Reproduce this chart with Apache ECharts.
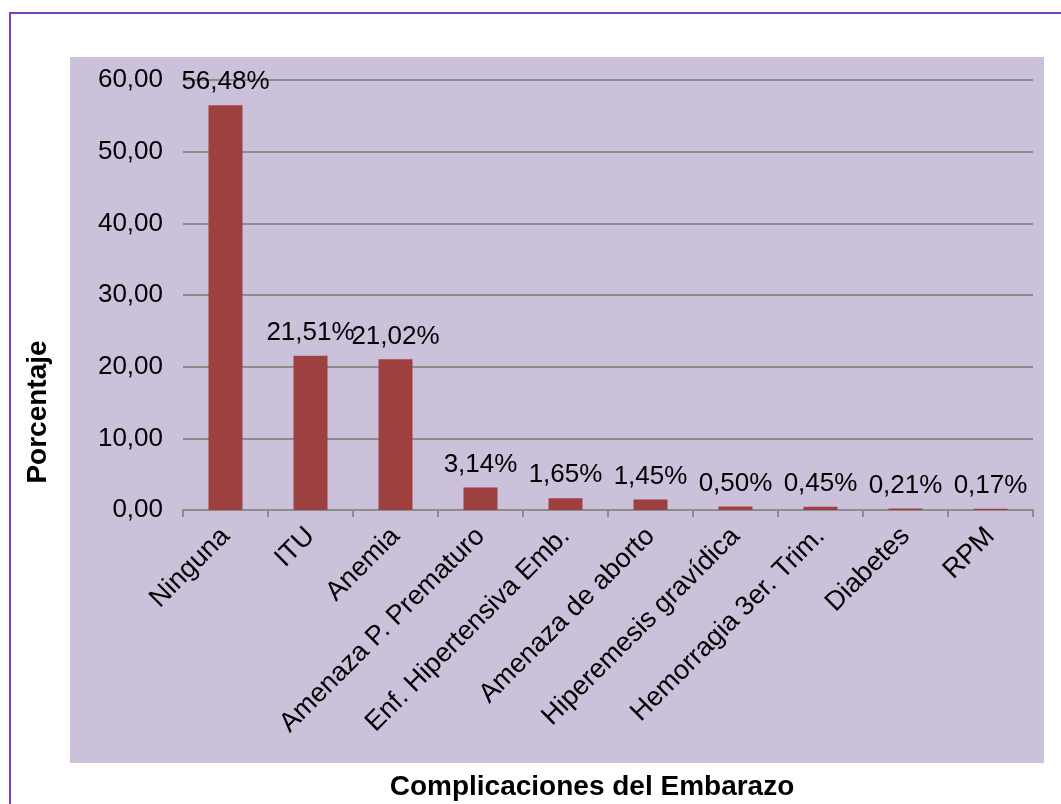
<!DOCTYPE html>
<html>
<head>
<meta charset="utf-8">
<script src="https://cdn.jsdelivr.net/npm/echarts@6/dist/echarts.min.js"></script>
<style>
  html, body { margin: 0; padding: 0; background: #fff; }
  #chart { width: 1061px; height: 804px; }
</style>
</head>
<body>
<div id="chart"></div>
<script>
// categorias y valores (%)
var categories = [
  "Ninguna", "ITU", "Anemia", "Amenaza P. Prematuro", "Enf. Hipertensiva Emb.",
  "Amenaza de aborto", "Hiperemesis gravídica", "Hemorragia 3er. Trim.", "Diabetes", "RPM"
];
var percentages = [56.48, 21.51, 21.02, 3.14, 1.65, 1.45, 0.50, 0.45, 0.21, 0.17];
var yTicks = { min: 0, max: 60, interval: 10 };

var font = "Liberation Sans, Arial, sans-serif";

function comma(v, d) {
  return v.toFixed(d).replace(".", ",");
}

var chart = echarts.init(document.getElementById("chart"));
chart.setOption({
  animation: false,
  textStyle: { fontFamily: font },
  graphic: [
    {
      type: "rect", z: -10, silent: true,
      shape: { x: 10, y: 13, width: 1200, height: 1000 },
      style: { fill: "#fff", stroke: "#7B3FBF", lineWidth: 2 }
    },
    {
      type: "rect", z: -9, silent: true,
      shape: { x: 70, y: 57, width: 974, height: 706 },
      style: { fill: "#CCC1DA" }
    },
    {
      type: "text", silent: true,
      x: 38, y: 412, rotation: Math.PI / 2,
      style: {
        text: "Porcentaje", fontFamily: font, fontSize: 28, fontWeight: "bold",
        fill: "#000", align: "center", verticalAlign: "middle"
      }
    },
    {
      type: "text", silent: true,
      x: 592, y: 787,
      style: {
        text: "Complicaciones del Embarazo", fontFamily: font, fontSize: 28, fontWeight: "bold",
        fill: "#000", align: "center", verticalAlign: "middle"
      }
    }
  ],
  grid: { left: 183, right: 28, top: 80, bottom: 294 },
  xAxis: {
    type: "category",
    data: categories,
    axisLine: { lineStyle: { color: "#8C8C8C", width: 2 } },
    axisTick: { show: true, length: 7, lineStyle: { color: "#8C8C8C", width: 2 } },
    axisLabel: {
      rotate: 45, margin: 22, interval: 0,
      color: "#000", fontSize: 27, fontFamily: font
    }
  },
  yAxis: {
    type: "value",
    min: yTicks.min, max: yTicks.max, interval: yTicks.interval,
    axisLine: { show: false },
    axisTick: { show: false },
    axisLabel: {
      margin: 20, color: "#000", fontSize: 26, fontFamily: font,
      formatter: function (v) { return comma(v, 2); }
    },
    splitLine: { lineStyle: { color: "#8C8C8C", width: 2 } }
  },
  series: [{
    type: "bar",
    data: percentages,
    barWidth: 34,
    itemStyle: { color: "#9E4040" },
    label: {
      show: true, position: "top", distance: 10,
      color: "#000", fontSize: 26, fontFamily: font,
      formatter: function (p) { return comma(p.value, 2) + "%"; }
    }
  }]
});
</script>
</body>
</html>
